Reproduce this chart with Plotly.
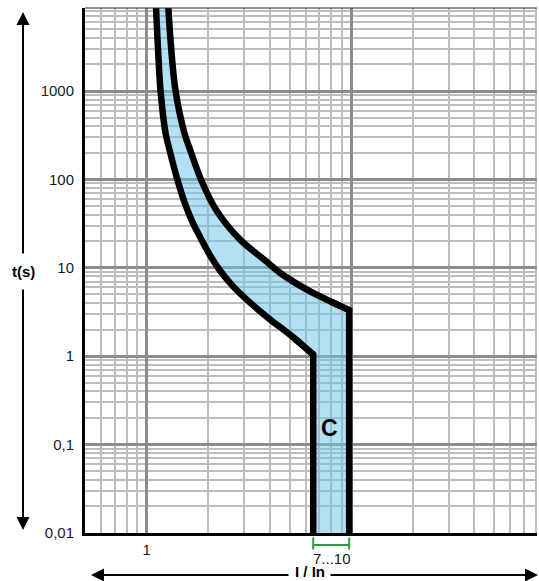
import math
import plotly.graph_objects as go

# ---- data ----
# lower (left) boundary of the C-curve band: multiple of In vs time (s)
LOWER_I = [1.103, 1.112, 1.138, 1.170, 1.238, 1.295, 1.416, 1.538, 1.658, 1.820, 2.013, 2.270, 2.648, 3.217, 4.026, 5.136, 6.525, 6.525]
LOWER_T = [15000, 8850, 2903, 1005, 335, 215, 98.6, 53.9, 34.9, 22.6, 14.69, 9.52, 6.17, 4.007, 2.596, 1.681, 1.045, 0.005]
# upper (right) boundary
UPPER_I = [1.262, 1.277, 1.321, 1.385, 1.532, 1.634, 1.849, 2.188, 2.874, 3.763, 4.505, 6.08, 7.90, 9.78, 9.78]
UPPER_T = [15000, 8850, 2903, 1005, 332, 215, 98.6, 45.2, 20.7, 12.34, 8.74, 5.66, 4.18, 3.32, 0.005]

TRIP_RANGE = [6.525, 9.78]
TRIP_LABEL = "7...10"
CURVE_LABEL = "C"

Y_TICKS = [0.01, 0.1, 1, 10, 100, 1000]
Y_LABELS = ["0,01", "0,1", "1", "10", "100", "1000"]
X_TICKS = [1, 10]
X_LABELS = ["1", ""]

X_RANGE = [0.5, 81]
Y_RANGE = [0.01, 8700]

FONT = "Arial, Liberation Sans, sans-serif"
MINOR_VALS = [m * 10 ** e for e in range(-3, 5) for m in range(2, 10)]

fig = go.Figure()

# band fill
fig.add_trace(go.Scatter(
    x=LOWER_I + UPPER_I[::-1], y=LOWER_T + UPPER_T[::-1],
    mode="lines", fill="toself", fillcolor="rgba(110,196,232,0.52)",
    line=dict(width=0), hoverinfo="skip", showlegend=False))

# boundaries: smooth thermal part + straight magnetic part
for xs, ys in ((LOWER_I, LOWER_T), (UPPER_I, UPPER_T)):
    fig.add_trace(go.Scatter(x=xs[:-1], y=ys[:-1], mode="lines",
                             line=dict(color="black", width=6.5, shape="spline", smoothing=0.9),
                             showlegend=False, hoverinfo="skip"))
    fig.add_trace(go.Scatter(x=xs[-3:], y=ys[-3:], mode="lines",
                             line=dict(color="black", width=6.5),
                             showlegend=False, hoverinfo="skip"))

axis_common = dict(
    type="log", showgrid=True, gridcolor="#8c8c8c", gridwidth=2.5,
    showline=True, linecolor="black", linewidth=3, ticks="",
    zeroline=False, tickfont=dict(family=FONT, size=15, color="#1a1a1a"),
    minor=dict(tickvals=MINOR_VALS, showgrid=True, gridcolor="#bdbdbd", gridwidth=2, ticks=""),
)
fig.update_xaxes(**axis_common, range=[math.log10(X_RANGE[0]), math.log10(X_RANGE[1])],
                 tickmode="array", tickvals=X_TICKS, ticktext=X_LABELS, ticklabelstandoff=1)
fig.update_yaxes(**axis_common, range=[math.log10(Y_RANGE[0]), math.log10(Y_RANGE[1])],
                 tickmode="array", tickvals=Y_TICKS, ticktext=Y_LABELS, ticklabelstandoff=5)

# plot-area pixel geometry
L, R, T, B = 85, 2, 8, 48
W, H = 539, 581
pw, ph = W - L - R, H - T - B
def px(xp):
    return (xp - L) / pw
def py(yp):
    return (H - B - yp) / ph

green = "#2e9a44"
shapes = [
    dict(type="line", xref="paper", yref="paper", x0=0, x1=1, y0=1, y1=1,
         line=dict(color="#222", width=1.2)),
    dict(type="line", xref="x", yref="paper", x0=TRIP_RANGE[0], x1=TRIP_RANGE[1],
         y0=py(545), y1=py(545), line=dict(color=green, width=2)),
    dict(type="line", xref="x", yref="paper", x0=TRIP_RANGE[0], x1=TRIP_RANGE[0],
         y0=py(537.5), y1=py(549.5), line=dict(color=green, width=2)),
    dict(type="line", xref="x", yref="paper", x0=TRIP_RANGE[1], x1=TRIP_RANGE[1],
         y0=py(537.5), y1=py(549.5), line=dict(color=green, width=2)),
]
fig.update_layout(shapes=shapes)

mid_log = (math.log10(TRIP_RANGE[0]) + math.log10(TRIP_RANGE[1])) / 2
centered = dict(showarrow=False, xanchor="center", yanchor="middle")
ann = [
    dict(centered, text=CURVE_LABEL, xref="x", yref="y", x=mid_log - 0.01, y=math.log10(0.155),
         font=dict(family=FONT, size=23, color="black", weight="bold")),
    dict(centered, text=TRIP_LABEL, xref="x", yref="paper", x=mid_log + 0.005, y=py(558),
         font=dict(family=FONT, size=15, color="#1a1a1a")),
    dict(centered, text="<b>t(s)</b>", xref="paper", yref="paper", x=px(23), y=py(271),
         font=dict(family=FONT, size=15, color="black")),
    dict(centered, text="<b>I / In</b>", xref="paper", yref="paper", x=px(310), y=py(571.5),
         font=dict(family=FONT, size=15, color="black"), borderpad=0),
]
arrow = dict(text="", showarrow=True, arrowhead=2, arrowsize=1.3, arrowwidth=2,
             arrowcolor="black", xref="paper", yref="paper", standoff=0)
ann += [
    dict(arrow, x=px(23), y=py(12), ax=0, ay=255 - 12),
    dict(arrow, x=px(23), y=py(530), ax=0, ay=288 - 530),
    dict(arrow, x=px(91), y=py(575), ax=290 - 91, ay=0),
    dict(arrow, x=px(538), y=py(575), ax=329 - 538, ay=0),
]

fig.update_layout(
    annotations=ann,
    width=W, height=H, margin=dict(l=L, r=R, t=T, b=B, pad=0),
    paper_bgcolor="white", plot_bgcolor="white",
    font=dict(family=FONT), showlegend=False,
)

fig.write_html("out.html", config={"displayModeBar": False},
               post_script="document.body.style.margin='0';document.body.style.padding='0';")
